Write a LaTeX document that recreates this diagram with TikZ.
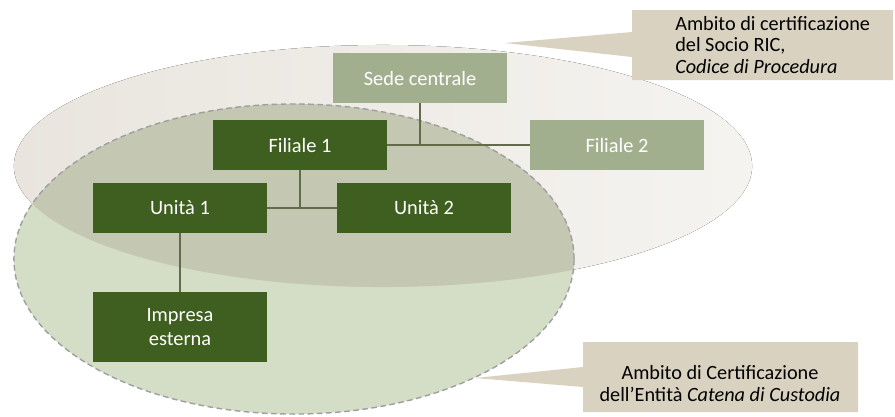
\documentclass[tikz,border=0pt]{standalone}
\usepackage{fontspec}
\setmainfont{Carlito}
\usepackage{tikz}

\definecolor{ricbg}{RGB}{233,229,222}
\definecolor{cocbg}{RGB}{212,221,198}
\definecolor{bothbg}{RGB}{196,199,178}
\definecolor{darkgreen}{RGB}{62,95,31}
\definecolor{palegreen}{RGB}{162,175,143}
\definecolor{linkcol}{RGB}{98,108,72}
\definecolor{notebg}{RGB}{217,210,192}

\begin{document}
\begin{tikzpicture}[x=0.025cm, y=-0.025cm,
	unit/.style = {minimum width=4.35cm, minimum height=1.25cm, inner sep=0pt,
		text=white, font=\fontsize{14.5}{17}\selectfont, align=center},
	dark/.style = {unit, fill=darkgreen},
	pale/.style = {unit, fill=palegreen},
	link/.style = {draw=linkcol, line width=2.1pt},
	note/.style = {font=\fontsize{14.4}{15.6}\selectfont, text=black, inner sep=0pt}]
	\useasboundingbox (0,0) rectangle (895,416);

	% scopes of certification
	\fill[left color=ricbg, right color=ricbg!45!white] (383,166) ellipse [x radius=9.225cm, y radius=3.025cm];
	\fill[cocbg] (294,259) ellipse [x radius=7cm, y radius=3.875cm];
	\begin{scope}
		\clip (383,166) ellipse [x radius=9.225cm, y radius=3.025cm];
		\fill[bothbg] (294,259) ellipse [x radius=7cm, y radius=3.875cm];
	\end{scope}
	\draw[gray!75, line width=1pt, dash pattern=on 4pt off 2.5pt] (294,259) ellipse [x radius=7cm, y radius=3.875cm];

	% callouts
	\fill[notebg] (505,43) -- (632,32) -- (632,10) -- (893,10) -- (893,80) -- (632,80) -- (632,57) -- cycle;
	\node[note, anchor=west, align=left] (ric) at (675,45)
		{Ambito di certificazione\\del Socio RIC,\\\textit{Codice di Procedura}};
	\fill[notebg] (475,378) -- (583,367) -- (583,342) -- (858,342) -- (858,412) -- (583,412) -- (583,387) -- cycle;
	\node[note, align=center] (coc) at (720,384)
		{Ambito di Certificazione\\dell'Entità \textit{Catena di Custodia}};

	% organisation
	\node[pale] (sede) at (420,78) {Sede centrale};
	\node[dark] (fil1) at (300,145) {Filiale 1};
	\node[pale] (fil2) at (617,145) {Filiale 2};
	\node[dark] (uni1) at (180,208) {Unità 1};
	\node[dark] (uni2) at (424,208) {Unità 2};
	\node[dark, minimum height=1.75cm] (imp) at (180,327) {Impresa\\esterna};

	\draw[link] (sede.south) -- (sede.south |- fil1.east);
	\draw[link] (fil1) -- (fil2);
	\draw[link] (fil1.south) -- (fil1.south |- uni1.east);
	\draw[link] (uni1) -- (uni2);
	\draw[link] (uni1) -- (imp);
\end{tikzpicture}
\end{document}
